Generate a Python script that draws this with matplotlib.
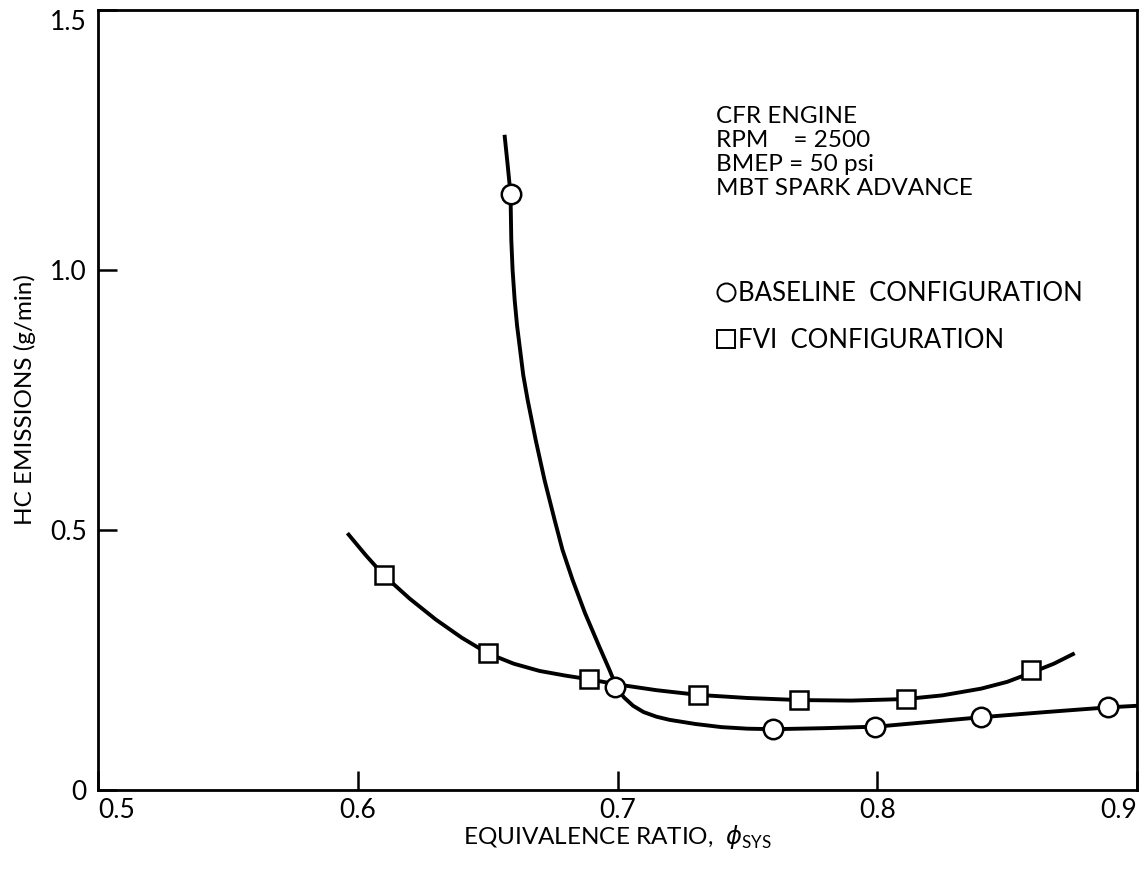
import matplotlib
matplotlib.use("Agg")
import matplotlib.pyplot as plt
from matplotlib.lines import Line2D

plt.rcParams['font.family'] = ['Lato', 'DejaVu Sans']
plt.rcParams['mathtext.fontset'] = 'custom'
plt.rcParams['mathtext.rm'] = 'Lato'

# Measured points
baseline_x = [0.659, 0.699, 0.760, 0.799, 0.840, 0.889]
baseline_y = [1.146, 0.198, 0.118, 0.122, 0.140, 0.159]
fvi_x = [0.610, 0.650, 0.689, 0.731, 0.770, 0.811, 0.859]
fvi_y = [0.413, 0.263, 0.213, 0.183, 0.173, 0.175, 0.231]

# Fitted curves as drawn in the figure
baseline_curve_x = [0.6565, 0.6577, 0.6588, 0.6591, 0.6596, 0.6604, 0.6613, 0.6625,
                    0.6637, 0.6654, 0.6685, 0.6719, 0.6758, 0.6788, 0.6827, 0.6875,
                    0.6927, 0.6969, 0.6996, 0.7025, 0.7060, 0.7100, 0.7150, 0.7200,
                    0.7300, 0.7400, 0.7500, 0.7600, 0.7800, 0.8000, 0.8200, 0.8400,
                    0.8650, 0.8890, 0.9000]
baseline_curve_y = [1.260, 1.202, 1.146, 1.058, 1.000, 0.942, 0.894, 0.846,
                    0.798, 0.750, 0.673, 0.596, 0.519, 0.462, 0.404, 0.340,
                    0.279, 0.231, 0.198, 0.178, 0.162, 0.150, 0.141, 0.135,
                    0.127, 0.121, 0.118, 0.117, 0.119, 0.122, 0.131, 0.140,
                    0.150, 0.159, 0.162]
fvi_curve_x = [0.596, 0.603, 0.610, 0.620, 0.630, 0.640, 0.650, 0.660, 0.670,
               0.680, 0.689, 0.700, 0.715, 0.731, 0.750, 0.770, 0.790, 0.811,
               0.825, 0.840, 0.850, 0.859, 0.868, 0.876]
fvi_curve_y = [0.494, 0.452, 0.413, 0.368, 0.328, 0.293, 0.263, 0.243, 0.229,
               0.220, 0.213, 0.203, 0.192, 0.183, 0.177, 0.173, 0.172, 0.175,
               0.182, 0.195, 0.208, 0.225, 0.243, 0.263]

xticks = [0.5, 0.6, 0.7, 0.8, 0.9]
xticklabels = ['0.5', '0.6', '0.7', '0.8', '0.9']
yticks = [0, 0.5, 1.0, 1.5]
yticklabels = ['0', '0.5', '1.0', '1.5']

fig = plt.figure(figsize=(11.44, 8.75), dpi=100)
ax = fig.add_axes([0.0857, 0.0971, 0.9082, 0.8915])

lw = 2.8
ax.plot(baseline_curve_x, baseline_curve_y, color='black', lw=lw,
        solid_joinstyle='round', solid_capstyle='butt', zorder=2)
ax.plot(fvi_curve_x, fvi_curve_y, color='black', lw=lw,
        solid_joinstyle='round', solid_capstyle='butt', zorder=2)
ax.plot(baseline_x, baseline_y, linestyle='none', marker='o', ms=14,
        mfc='white', mec='black', mew=1.8, zorder=3)
ax.plot(fvi_x, fvi_y, linestyle='none', marker='s', ms=13,
        mfc='white', mec='black', mew=1.8, zorder=3)

ax.set_xlim(0.5, 0.9)
ax.set_ylim(0, 1.5)
ax.set_xticks(xticks)
ax.set_xticklabels(xticklabels)
ax.set_yticks(yticks)
ax.set_yticklabels(yticklabels)
ax.tick_params(direction='in', length=14, width=1.8, labelsize=19)
ax.tick_params(axis='x', pad=6)
ax.tick_params(axis='y', pad=8)
xl = ax.get_xticklabels()
xl[0].set_horizontalalignment('left')
xl[-1].set_horizontalalignment('right')
yl = ax.get_yticklabels()
yl[-1].set_verticalalignment('top')
for s in ax.spines.values():
    s.set_linewidth(2.0)

ax.set_xlabel(r'EQUIVALENCE RATIO,  $\phi_{\mathrm{SYS}}$', fontsize=17.5, labelpad=0)
ax.set_ylabel('HC EMISSIONS (g/min)', fontsize=17.5, labelpad=10)

ax.text(0.595, 0.877, 'CFR ENGINE\nRPM    = 2500\nBMEP = 50 psi\nMBT SPARK ADVANCE',
        transform=ax.transAxes, fontsize=17.5, va='top', ha='left', linespacing=1.17)

handles = [Line2D([], [], linestyle='none', marker='o', ms=13, mfc='white', mec='black', mew=1.4),
           Line2D([], [], linestyle='none', marker='s', ms=13, mfc='white', mec='black', mew=1.4)]
ax.legend(handles, ['BASELINE  CONFIGURATION', 'FVI  CONFIGURATION'],
          loc='upper left', bbox_to_anchor=(0.597, 0.652), frameon=False,
          fontsize=18.5, handlelength=0.6, handletextpad=0.15, labelspacing=0.85,
          borderpad=0, borderaxespad=0)

fig.savefig('out.png', dpi=100)
